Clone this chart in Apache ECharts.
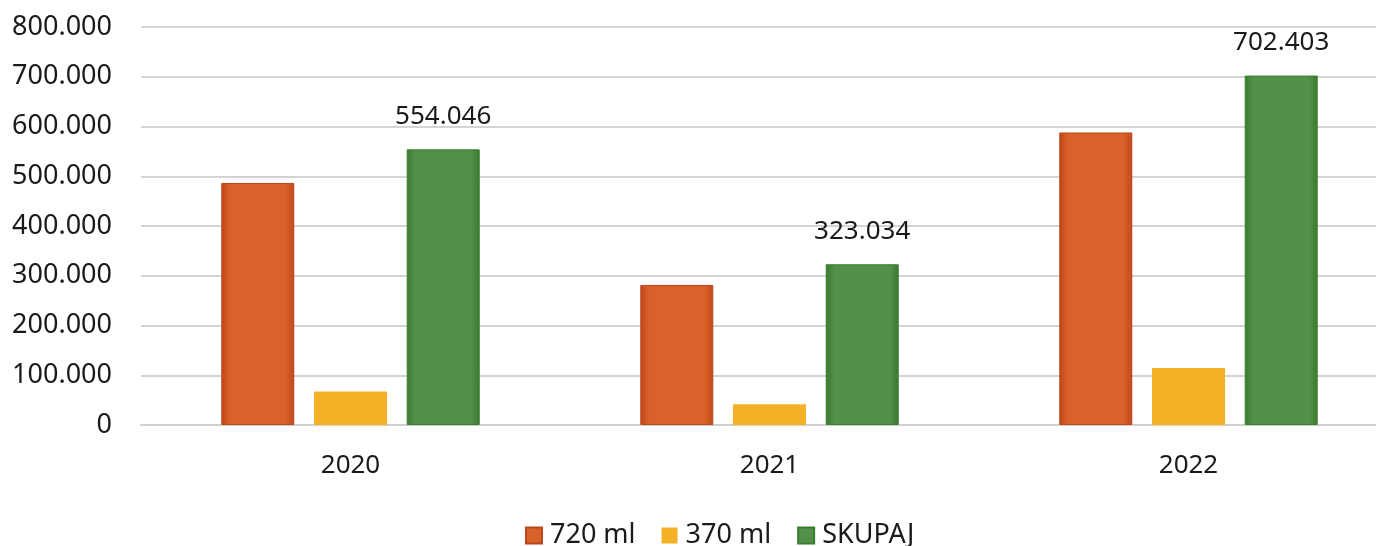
<!DOCTYPE html>
<html>
<head>
<meta charset="utf-8">
<script src="https://cdn.jsdelivr.net/npm/echarts@6/dist/echarts.min.js"></script>
<style>
  html, body { margin: 0; padding: 0; background: #fff; overflow: hidden; }
  #chart { width: 1400px; height: 546px; }
</style>
</head>
<body>
<div id="chart"></div>
<script>
const years = ['2020', '2021', '2022'];
const ml720 = [486500, 281500, 588000];
const ml370 = [67546, 41534, 114403];
const skupaj = [554046, 323034, 702403];
const yTicks = [0, 100000, 200000, 300000, 400000, 500000, 600000, 700000, 800000];

const fmt = (v) => String(v).replace(/\B(?=(\d{3})+(?!\d))/g, '.');

// vodoravni gradient da rubovi budu tamniji
const edge = (c1, c2) => ({
  type: 'linear', x: 0, y: 0, x2: 1, y2: 0,
  colorStops: [
    { offset: 0, color: c1 },
    { offset: 0.12, color: c2 },
    { offset: 0.88, color: c2 },
    { offset: 1, color: c1 }
  ]
});

const chart = echarts.init(document.getElementById('chart'));
chart.setOption({
  animation: false,
  textStyle: { fontFamily: 'Noto Sans', color: '#1a1a1a' },
  grid: { left: 141, right: 2, top: 27, bottom: 121 },
  legend: {
    top: 517,
    left: 520,
    itemWidth: 16,
    itemHeight: 16,
    itemGap: 26,
    icon: 'rect',
    textStyle: { fontSize: 27, color: '#1a1a1a', fontFamily: 'Noto Sans', padding: [0, 0, 0, 3] },
    data: ['720 ml', '370 ml', 'SKUPAJ']
  },
  xAxis: {
    type: 'category',
    data: years,
    axisTick: { show: false },
    axisLine: { lineStyle: { color: '#d0d0d0', width: 2 } },
    axisLabel: { fontSize: 26, color: '#1a1a1a', margin: 28 }
  },
  yAxis: {
    type: 'value',
    min: yTicks[0],
    max: yTicks[yTicks.length - 1],
    interval: 100000,
    axisLine: { show: false },
    axisTick: { show: false },
    splitLine: { lineStyle: { color: '#d4d4d4', width: 2 } },
    axisLabel: { fontSize: 27, color: '#1a1a1a', margin: 29, formatter: (v) => fmt(v) }
  },
  series: [
    {
      name: '720 ml',
      type: 'bar',
      data: ml720,
      barWidth: 73,
      barGap: '27%',
      color: '#D35A22',
      itemStyle: { color: edge('#C2461A', '#D9622A'), borderColor: '#B9461C', borderWidth: 1 }
    },
    {
      name: '370 ml',
      type: 'bar',
      data: ml370,
      barWidth: 73,
      color: '#F4B124',
      itemStyle: { color: '#F5B126' }
    },
    {
      name: 'SKUPAJ',
      type: 'bar',
      data: skupaj,
      barWidth: 73,
      color: '#3F8432',
      itemStyle: { color: edge('#387A2E', '#53914A'), borderColor: '#3A7C30', borderWidth: 1 },
      label: {
        show: true,
        position: 'top',
        distance: 20,
        fontSize: 26,
        color: '#1a1a1a',
        formatter: (p) => fmt(p.value)
      }
    }
  ]
});
</script>
</body>
</html>
